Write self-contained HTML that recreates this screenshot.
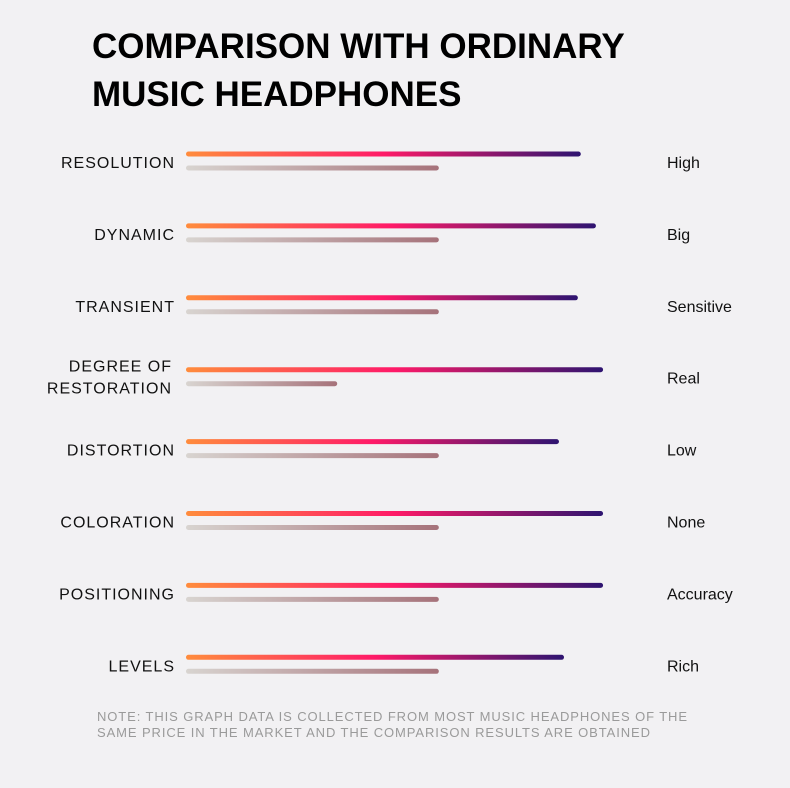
<!DOCTYPE html>
<html><head><meta charset="utf-8"><style>
body{margin:0;background:#f2f1f3;}
svg{display:block;font-family:"Liberation Sans",sans-serif;}
</style></head><body>
<svg id="c" width="790" height="788">
<defs>
<linearGradient id="gTop" x1="0" x2="1" y1="0" y2="0"><stop offset="0" stop-color="#ff8c3c"/><stop offset="0.5" stop-color="#ff1a68"/><stop offset="1" stop-color="#2e1470"/></linearGradient>
<linearGradient id="gBot" x1="0" x2="1" y1="0" y2="0"><stop offset="0" stop-color="#d8d4d0"/><stop offset="1" stop-color="#a6727a"/></linearGradient>
</defs>
<text x="92" y="58" font-size="35" font-weight="bold" fill="#000">COMPARISON WITH ORDINARY</text>
<text x="92" y="106" font-size="35" font-weight="bold" fill="#000">MUSIC HEADPHONES</text>
<g id="rows"></g>
<text x="97" y="721" font-size="13" fill="#9a9a9a" letter-spacing="0.9">NOTE: THIS GRAPH DATA IS COLLECTED FROM MOST MUSIC HEADPHONES OF THE</text>
<text x="97" y="737" font-size="13" fill="#9a9a9a" letter-spacing="0.9">SAME PRICE IN THE MARKET AND THE COMPARISON RESULTS ARE OBTAINED</text>
</svg>
<script>
const categories=[["RESOLUTION"],["DYNAMIC"],["TRANSIENT"],["DEGREE OF","RESTORATION"],["DISTORTION"],["COLORATION"],["POSITIONING"],["LEVELS"]];
const ourValues=[94,97.6,93.3,99.3,88.8,99.3,99.3,90];
const ordinaryValues=[60.2,60.2,60.2,36,60.2,60.2,60.2,60.2];
const ratings=["High","Big","Sensitive","Real","Low","None","Accuracy","Rich"];
const NS="http://www.w3.org/2000/svg";
const g=document.getElementById('rows');
const x0=186,xScale=v=>186+v*4.2,rowY=i=>154+i*71.9;
function mk(t,a){const e=document.createElementNS(NS,t);for(const k in a)e.setAttribute(k,a[k]);g.appendChild(e);return e;}
categories.forEach((c,i)=>{
 const y=rowY(i);
 let l=mk('rect',{x:x0,y:y-2.5,width:xScale(ourValues[i])-x0,height:5,rx:2.5,fill:'url(#gTop)'});
 
 
 let b=mk('rect',{x:x0,y:y+11.5,width:xScale(ordinaryValues[i])-x0,height:5,rx:2.5,fill:'url(#gBot)'});
 
 
 if(c.length===1){
  let t=mk('text',{x:175,y:y+14,'text-anchor':'end','font-size':16,'letter-spacing':'1',fill:'#111'});t.textContent=c[0];
  
  
 }else{
  c.forEach((s,j)=>{let t=mk('text',{x:172,y:y+2+j*22,'text-anchor':'end','font-size':16,'letter-spacing':'1',fill:'#111'});t.textContent=s;
  
  });
 }
 let r=mk('text',{x:667,y:y+14,'font-size':16,fill:'#111'});r.textContent=ratings[i];
 
 
});
</script>
</body></html>
